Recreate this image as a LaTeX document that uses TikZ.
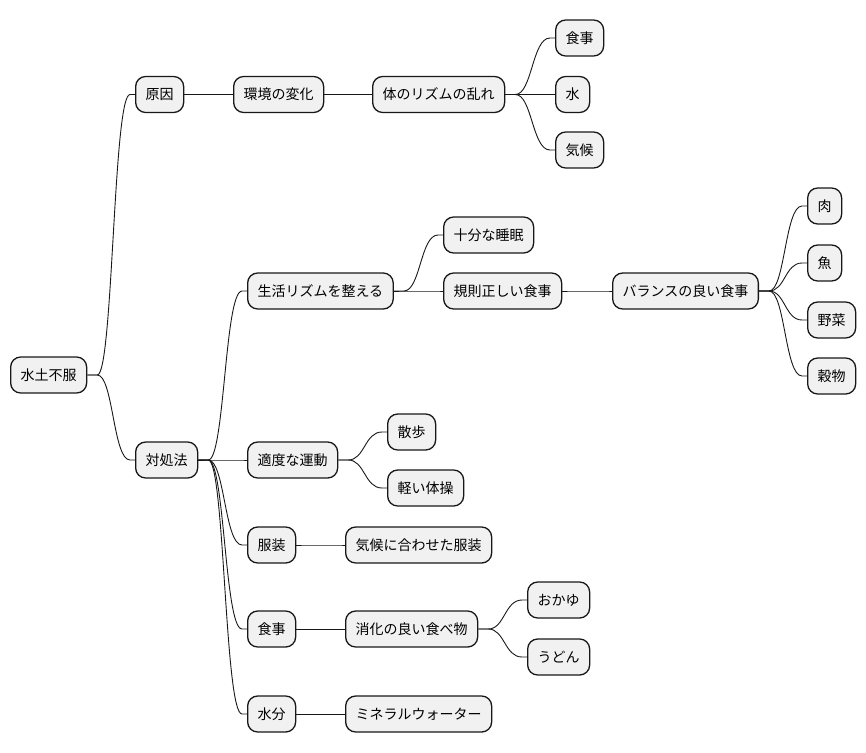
\documentclass[tikz,border=0pt]{standalone}
\usepackage{fontspec}
\setmainfont{Noto Sans CJK JP}
\usetikzlibrary{calc}
\definecolor{nodeFill}{HTML}{F1F1F1}
\definecolor{lineDark}{HTML}{181818}
\newcommand{\Branch}[2]{%
  \draw[link] let \p1=(#1.east), \p2=(#2.west), \n1={(\x1+\x2)/2+2} in
    (\p1) -- ++(10,0) .. controls (\n1,\y1) and (\n1,\y2) .. ($(\p2)+(-5,0)$) -- (\p2);}

\begin{document}
\begin{tikzpicture}[x=1pt,y=-1pt,
  mm/.style={draw=lineDark,fill=nodeFill,line width=1.3pt,rounded corners=10pt,
    minimum height=36pt,inner xsep=10pt,inner ysep=0pt,anchor=west,
    font=\fontsize{14}{16}\selectfont},
  link/.style={draw=lineDark,line width=0.9pt}]
  \useasboundingbox (0,0) rectangle (866,752);
  % root and first level
  \node[mm] (root) at (10,375) {水土不服};
  \node[mm] (cause) at (135,94.5) {原因};
  \node[mm] (remedy) at (135,460) {対処法};
  % cause branch
  \node[mm] (envchange) at (233,94.5) {環境の変化};
  \node[mm] (rhythm) at (372,94.5) {体のリズムの乱れ};
  \node[mm] (meal1) at (555,38) {食事};
  \node[mm] (water1) at (555,94.5) {水};
  \node[mm] (climate1) at (555,150) {気候};
  % remedy branch
  \node[mm] (life) at (247,291) {生活リズムを整える};
  \node[mm] (sleep) at (443,235) {十分な睡眠};
  \node[mm] (regular) at (443,291) {規則正しい食事};
  \node[mm] (balance) at (612,291) {バランスの良い食事};
  \node[mm] (meat) at (807,206) {肉};
  \node[mm] (fish) at (807,263) {魚};
  \node[mm] (veg) at (807,320) {野菜};
  \node[mm] (grain) at (807,376) {穀物};
  \node[mm] (exercise) at (247,460) {適度な運動};
  \node[mm] (walk) at (387,432) {散歩};
  \node[mm] (gym) at (387,488) {軽い体操};
  \node[mm] (clothes) at (247,545) {服装};
  \node[mm] (fitclothes) at (345,545) {気候に合わせた服装};
  \node[mm] (food) at (247,629) {食事};
  \node[mm] (digest) at (345,629) {消化の良い食べ物};
  \node[mm] (okayu) at (527,600) {おかゆ};
  \node[mm] (udon) at (527,657) {うどん};
  \node[mm] (fluid) at (247,714) {水分};
  \node[mm] (mineral) at (345,714) {ミネラルウォーター};
  % connectors
  \Branch{root}{cause}
  \Branch{root}{remedy}
  \Branch{cause}{envchange}
  \Branch{envchange}{rhythm}
  \foreach \c in {meal1,water1,climate1} {\Branch{rhythm}{\c}}
  \foreach \c in {life,exercise,clothes,food,fluid} {\Branch{remedy}{\c}}
  \Branch{life}{sleep}
  \Branch{life}{regular}
  \Branch{regular}{balance}
  \foreach \c in {meat,fish,veg,grain} {\Branch{balance}{\c}}
  \Branch{exercise}{walk}
  \Branch{exercise}{gym}
  \Branch{clothes}{fitclothes}
  \Branch{food}{digest}
  \Branch{digest}{okayu}
  \Branch{digest}{udon}
  \Branch{fluid}{mineral}
\end{tikzpicture}
\end{document}
